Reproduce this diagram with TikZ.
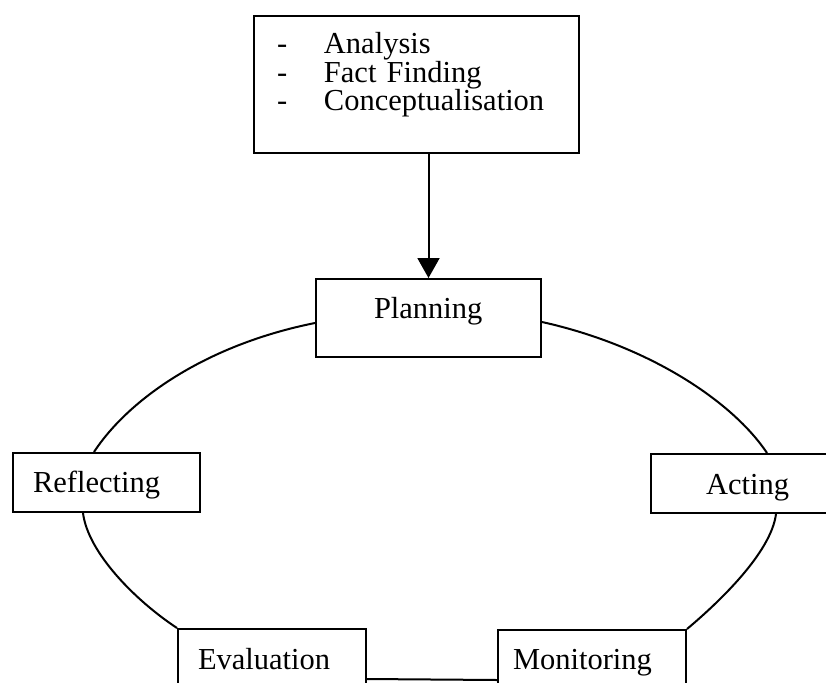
\documentclass[tikz,border=0pt]{standalone}
\usepackage{fontspec}
\setmainfont{Liberation Serif}
\usetikzlibrary{arrows.meta}
\newcommand\diagfont{\fontsize{30.5}{28.5}\selectfont}
\tikzset{
  bx/.style={draw, line width=2pt, fill=white, inner ysep=0pt, align=left,
             anchor=north west, font=\diagfont},
  ring/.style={line width=2pt},
  arr/.style={line width=2pt, -{Triangle[length=20pt,width=22pt]}}
}
\begin{document}
\begin{tikzpicture}[x=1pt,y=-1pt]
\clip (0,0) rectangle (826,682);
\fill[white] (0,0) rectangle (826,682);

\node[bx, inner xsep=23pt, text width=279pt, text height=38pt, text depth=99pt] (top) at (253,15)
  {\makebox[47pt][l]{-}Analysis\\ \makebox[47pt][l]{-}Fact Finding\\ \makebox[47pt][l]{-}Conceptualisation};

\node[bx, inner xsep=58pt, text width=109pt, text height=39pt, text depth=39pt] (plan) at (315,278) {Planning};
\node[bx, inner xsep=20pt, text width=147pt, text height=39pt, text depth=20pt] (refl) at (12,452) {Reflecting};
\node[bx, inner xsep=55pt, text width=90pt, text height=40pt, text depth=19pt] (act) at (650,453) {Acting};
\node[bx, inner xsep=20pt, text width=148pt, text height=40pt, text depth=40pt] (eval) at (177,628) {Evaluation};
\node[bx, inner xsep=15pt, text width=158pt, text height=39pt, text depth=40pt] (mon) at (497,629) {Monitoring};

\draw[arr] (top.south -| plan.north) -- (plan.north);

\draw[ring] (plan.west |- 0,323) .. controls (205,345) and (128,400) .. (refl.north -| 94,0);
\draw[ring] (plan.east |- 0,322) .. controls (650,346) and (733,402) .. (act.north -| 767,0);
\draw[ring] (refl.south -| 83,0) .. controls (88,553) and (136,601) .. (eval.north west);
\draw[ring] (act.south -| 776,0) .. controls (771,553) and (718,603) .. (mon.north east);
\draw[ring] (eval.east |- 0,679) -- (mon.west |- 0,680);
\end{tikzpicture}
\end{document}
